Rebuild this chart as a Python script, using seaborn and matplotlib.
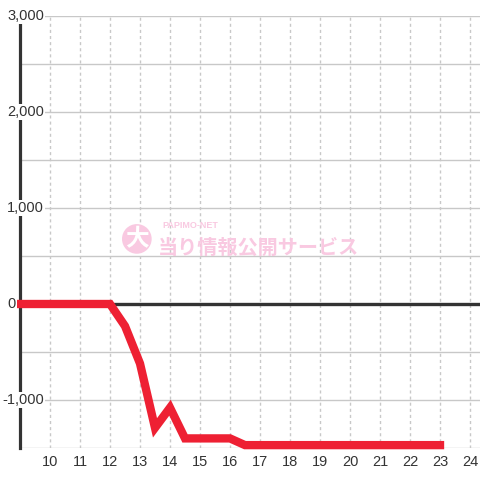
"""
Grafico de saldo por hora (recriacao)
"""
import matplotlib
matplotlib.use('Agg')
import matplotlib.pyplot as plt
import matplotlib.transforms as mtransforms
import seaborn as sns
import pandas as pd

# Dados
horas = [9.0, 9.5, 10.0, 10.5, 11.0, 11.5, 12.0, 12.5, 13.0, 13.5, 14.0, 14.5,
         15.0, 15.5, 16.0, 16.5, 17.0, 17.5, 18.0, 18.5, 19.0, 19.5, 20.0,
         20.5, 21.0, 21.5, 22.0, 22.5, 23.0]
saldo = [0, 0, 0, 0, 0, 0, 0, -230, -620, -1290, -1080, -1400,
         -1400, -1400, -1400, -1470, -1470, -1470, -1470, -1470, -1470, -1470, -1470,
         -1470, -1470, -1470, -1470, -1470, -1470]
x_ticks = list(range(10, 25))
y_ticks = [-1000, 0, 1000, 2000, 3000]
y_grid = [-1500, -500, 500, 1500, 2500]

df = pd.DataFrame({'hora': horas, 'saldo': saldo})

# Configurações
sns.set_theme(style='white')
plt.rcParams['font.family'] = ['Liberation Sans', 'DejaVu Sans']
texto = '#333333'

fig = plt.figure(figsize=(4.8, 4.8), dpi=100)
ax = fig.add_axes([20 / 480, 32 / 480, 460 / 480, 432 / 480])
ax.set_facecolor('white')

ax.set_xlim(9, 9 + 460 / 30)
ax.set_ylim(-1500, 3000)

# Grades
ax.set_yticks(y_ticks)
ax.set_yticks(y_grid, minor=True)
ax.set_xticks(x_ticks)
ax.yaxis.grid(True, which='both', color='#c8c8c8', linewidth=1.0, linestyle='-')
ax.xaxis.grid(True, color='#c8c8c8', linewidth=1.0, linestyle=(0, (2.2, 2.2)))
ax.set_axisbelow(True)
ax.tick_params(axis='both', which='both', length=0)
ax.tick_params(axis='x', labelsize=10.5, labelcolor=texto, pad=5)
ax.set_yticklabels([])

for lado in ['top', 'right', 'bottom']:
    ax.spines[lado].set_visible(False)
ax.spines['left'].set_color(texto)
ax.spines['left'].set_linewidth(2.3)

# Linha do zero
ax.axhline(0, color=texto, linewidth=2.4, zorder=2.4)

# Marca d'água
rosa = '#f9c9e1'
ax.text(0.254, 0.484, '大', transform=ax.transAxes, fontsize=17, fontweight='bold',
        color='white', ha='center', va='center', family=['Noto Sans CJK JP'],
        bbox=dict(boxstyle='circle,pad=0.12', facecolor=rosa, edgecolor='none'), zorder=1)
ax.text(0.309, 0.515, 'PAPIMO-NET', transform=ax.transAxes, fontsize=6.5,
        fontweight='bold', color=rosa, ha='left', va='center', zorder=1)
ax.text(0.300, 0.465, '当り情報公開サービス', transform=ax.transAxes, fontsize=14.5,
        fontweight='bold', color=rosa, ha='left', va='center',
        family=['Noto Sans CJK JP'], zorder=1)

# Linha principal
sns.lineplot(data=df, x='hora', y='saldo', ax=ax, color='#ee2033', linewidth=6,
             solid_capstyle='projecting', solid_joinstyle='miter', clip_on=False,
             zorder=2.6)
ax.set_xlabel('')
ax.set_ylabel('')

# Rótulos do eixo y com fundo branco
for v in y_ticks:
    rotulo = f'{abs(v):,}'
    dx = -13
    if v < 0:
        rotulo = '-' + rotulo
        dx = -18
    trans = mtransforms.offset_copy(
        mtransforms.blended_transform_factory(ax.transAxes, ax.transData),
        fig=fig, x=dx, y=0, units='dots')
    ax.text(0, v, rotulo, transform=trans, fontsize=10.5, color=texto,
            ha='left', va='center', zorder=3, clip_on=False,
            bbox=dict(facecolor='white', edgecolor='none', pad=1))

fig.savefig('out.png', dpi=100)
